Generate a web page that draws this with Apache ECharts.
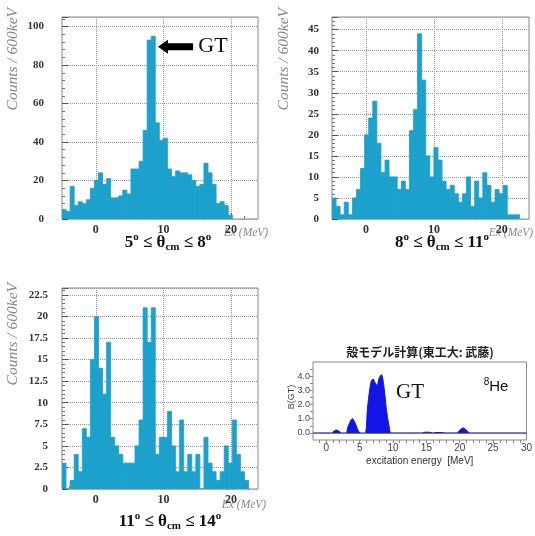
<!DOCTYPE html>
<html><head><meta charset="utf-8">
<script src="https://cdn.jsdelivr.net/npm/echarts@6/dist/echarts.min.js"></script>
<style>html,body{margin:0;padding:0;background:#fff}#c{width:535px;height:536px}</style>
</head><body><div id="c"></div>
<script>
// ---- data ----
const binStart = -5, binWidth = 0.6; // MeV, 600 keV bins
const counts5to8 = [5,4,17,7,9,8,10,16,20,24,18,21,11,11,12,15,13,26,26,30,46,93,95,50,41,42,26,22,25,24,24,23,20,17,18,29,24,18,8,9,7,2];
const counts8to11 = [5,3,1,4,1,5,7,12,20,24,28,18,11,14,10,10,7,9,7,21,26,44,33,15,10,17,14,9,7,8,6,4,6,10,3,9,5,11,8,4,7,6,8,1,1,1];
const counts11to14 = [3,0,1,4,2,7,6,15,20,14,11,17,6,5,4,3,3,3,5,8,21,17,21,4,6,6,9,5,2,8,2,4,2,4,0,6,3,2,1,2,5,3,8,4,2,1];
const xTickLabels = [0, 10, 20];
const bgtE = [-2,0.8,1.2,1.5,1.9,2.3,2.9,3.3,3.9,4.4,4.9,5.3,5.8,6.2,6.7,7.0,7.3,7.6,7.9,8.25,8.6,9.0,9.4,9.8,14.3,14.8,15.4,15.9,16.4,17.2,17.8,19.6,20.0,20.5,21.0,21.5,30];
const bgtVal = [0,0,0.15,0.2,0.12,0,0,0.5,1.0,0.6,0.05,0,0,1.9,3.6,3.8,3.55,3.35,3.85,4.1,3.4,1.7,0.5,0,0,0.05,0.05,0,0.03,0.03,0,0,0.2,0.35,0.2,0,0];
const bgtXLabels = [0,5,10,15,20,25,30];
const bgtXTicks = [-1,0,1,2,3,4,5,6,7,8,9,10,11,12,13,14,15,16,17,18,19,20,21,22,23,24,25,26,27,28,29];
const bgtYLabels = [0,1,2,3,4];
const bgtYTicks = [0,0.5,1,1.5,2,2.5,3,3.5,4,4.5];

const serif = 'Liberation Serif';
const barColor = '#1ba1cc';

function histData(counts){ return counts.map((v,i)=>[binStart+i*binWidth, binStart+(i+1)*binWidth, v]); }
function renderHist(params, api){
  const a = api.coord([api.value(0), api.value(2)]);
  const b = api.coord([api.value(1), 0]);
  return {type:'rect', shape:{x:a[0], y:a[1], width:b[0]-a[0], height:b[1]-a[1]}, style:{fill:barColor, stroke:barColor, lineWidth:0.8}};
}
function histX(gi){
  return {gridIndex:gi, type:'value', min:-5, max:24, splitNumber:3,
    axisLine:{show:false, onZero:false},
    axisTick:{inside:true, length:6, customValues:xTickLabels, lineStyle:{color:'#555'}},
    minorTick:{show:true, splitNumber:5, length:3, lineStyle:{color:'#777'}},
    axisLabel:{customValues:xTickLabels, fontFamily:serif, fontWeight:'bold', fontSize:12, color:'#333', margin:5},
    splitLine:{show:true, lineStyle:{type:'dotted', color:'#999'}}};
}
function histY(gi, max, interval, margin){
  return {gridIndex:gi, type:'value', min:0, max:max, interval:interval,
    axisLine:{show:false, onZero:false},
    axisTick:{inside:true, length:6, lineStyle:{color:'#555'}},
    minorTick:{show:true, splitNumber:5, length:3, lineStyle:{color:'#777'}},
    axisLabel:{showMaxLabel:false, fontFamily:serif, fontWeight:'bold', fontSize:11, color:'#333', margin:margin},
    splitLine:{show:true, lineStyle:{type:'dotted', color:'#999'}}};
}
const gridStyle = {show:true, borderColor:'#888', borderWidth:1, backgroundColor:'transparent'};

const chart = echarts.init(document.getElementById('c'), null, {renderer:'canvas'});
const option = {
  animation:false,
  grid:[
    Object.assign({left:62, top:17, width:196, height:202}, gridStyle),
    Object.assign({left:332, top:17, width:197, height:202}, gridStyle),
    Object.assign({left:62, top:288, width:196, height:201}, gridStyle),
    Object.assign({left:313, top:362, width:214, height:78}, gridStyle)
  ],
  xAxis:[histX(0), histX(1), histX(2),
    {gridIndex:3, type:'value', min:-2, max:30, axisLine:{show:false, onZero:false},
     axisTick:{customValues:bgtXTicks, length:3, lineStyle:{color:'#888'}},
     axisLabel:{customValues:bgtXLabels, fontFamily:'Liberation Sans', fontSize:10, color:'#444', margin:3},
     splitLine:{show:false},
     name:'excitation energy  [MeV]', nameLocation:'middle', nameGap:16,
     nameTextStyle:{fontFamily:'Liberation Sans', fontSize:10, color:'#333'}}
  ],
  yAxis:[histY(0,105,20,18), histY(1,48,5,13), histY(2,23.3,2.5,14),
    {gridIndex:3, type:'value', min:-0.5, max:5, axisLine:{show:false, onZero:false},
     axisTick:{customValues:bgtYTicks, length:3, lineStyle:{color:'#888'}},
     axisLabel:{customValues:bgtYLabels, formatter:v=>Number(v).toFixed(1), fontFamily:'Liberation Sans', fontSize:9, color:'#444', margin:3},
     splitLine:{show:false}}
  ],
  series:[
    {type:'custom', xAxisIndex:0, yAxisIndex:0, renderItem:renderHist, data:histData(counts5to8), encode:{x:[0,1], y:2}, clip:true},
    {type:'custom', xAxisIndex:1, yAxisIndex:1, renderItem:renderHist, data:histData(counts8to11), encode:{x:[0,1], y:2}, clip:true},
    {type:'custom', xAxisIndex:2, yAxisIndex:2, renderItem:renderHist, data:histData(counts11to14), encode:{x:[0,1], y:2}, clip:true},
    {type:'line', xAxisIndex:3, yAxisIndex:3, data:bgtE.map((e,i)=>[e,bgtVal[i]]), smooth:0.35, showSymbol:false,
     lineStyle:{color:'#1414e6', width:1}, areaStyle:{color:'#1414e6', opacity:1},
     markLine:{silent:true, symbol:'none', label:{show:false}, lineStyle:{color:'#777', width:1, type:'solid'}, data:[{yAxis:0}]}}
  ]
};
chart.setOption(option);

const thetaRich = {
  n:{fontFamily:serif, fontWeight:'bold', fontSize:17, fill:'#111'},
  s:{fontFamily:serif, fontWeight:'bold', fontSize:11, fill:'#111', padding:[0,0,11,0]},
  b:{fontFamily:serif, fontWeight:'bold', fontSize:11, fill:'#111', padding:[9,0,0,0]}
};
function txt(x, y, text, extra){
  return {type:'text', x:x, y:y, style:Object.assign({text:text, align:'center', verticalAlign:'middle'}, extra)};
}
function vtxt(x, y, text, extra){
  return {type:'text', x:x, y:y, rotation:Math.PI/2, style:Object.assign({text:text, align:'right', verticalAlign:'middle'}, extra)};
}
const nameStyle = {fontFamily:serif, fontStyle:'italic', fontSize:15.5, fill:'#888'};
const exStyle = {fontFamily:serif, fontStyle:'italic', fontSize:11.5, fill:'#888'};

const p = chart.convertToPixel({gridIndex:0}, [9.2, 89.5]);
const q = chart.convertToPixel({gridIndex:0}, [14.4, 89.5]);

chart.setOption({graphic:[
  vtxt(13, 8, 'Counts / 600keV', nameStyle),
  vtxt(284, 8, 'Counts / 600keV', nameStyle),
  vtxt(13, 283, 'Counts / 600keV', nameStyle),
  txt(246, 233, 'Ex (MeV)', exStyle),
  txt(511, 233, 'Ex (MeV)', exStyle),
  txt(244, 505, 'Ex (MeV)', exStyle),
  txt(168, 243, '{n|5}{s|o}{n| ≤ θ}{b|cm}{n| ≤ 8}{s|o}', {rich:thetaRich}),
  txt(442, 243, '{n|8}{s|o}{n| ≤ θ}{b|cm}{n| ≤ 11}{s|o}', {rich:thetaRich}),
  txt(170, 522, '{n|11}{s|o}{n| ≤ θ}{b|cm}{n| ≤ 14}{s|o}', {rich:thetaRich}),
  txt(213, 46, 'GT', {fontFamily:serif, fontSize:22, fill:'#111'}),
  {type:'polygon', shape:{points:[[p[0],p[1]],[p[0]+10,p[1]-7],[p[0]+10,p[1]-3.5],[q[0],q[1]-3.5],[q[0],q[1]+3.5],[p[0]+10,p[1]+3.5],[p[0]+10,p[1]+7]]}, style:{fill:'#000'}},
  txt(420, 352, '殻モデル計算(東工大: 武藤)', {fontFamily:'Noto Sans CJK JP', fontWeight:'bold', fontSize:12, fill:'#222'}),
  txt(410, 392, 'GT', {fontFamily:serif, fontSize:21, fill:'#111'}),
  txt(496, 387, '{s|8}{h|He}', {rich:{s:{fontFamily:'Liberation Sans', fontSize:10, fill:'#111', padding:[0,0,10,0]}, h:{fontFamily:'Liberation Sans', fontSize:15, fill:'#111'}}}),
  {type:'text', x:292, y:397, rotation:Math.PI/2, style:{text:'B(GT)', align:'center', verticalAlign:'middle', fontFamily:'Liberation Sans', fontSize:9, fill:'#444'}}
]});
</script></body></html>
